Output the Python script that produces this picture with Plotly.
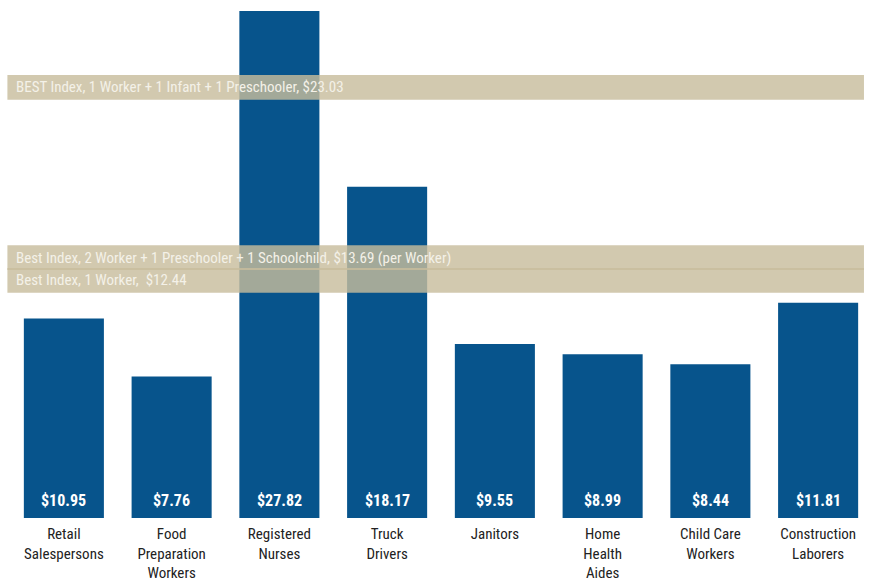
import plotly.graph_objects as go

categories = ["Retail<br>Salespersons", "Food<br>Preparation<br>Workers", "Registered<br>Nurses",
              "Truck<br>Drivers", "Janitors", "Home<br>Health<br>Aides", "Child Care<br>Workers",
              "Construction<br>Laborers"]
wages = [10.95, 7.76, 27.82, 18.17, 9.55, 8.99, 8.44, 11.81]

band_labels = ["BEST Index, 1 Worker + 1 Infant + 1 Preschooler, $23.03",
               "Best Index, 2 Worker + 1 Preschooler + 1 Schoolchild, $13.69 (per Worker)",
               "Best Index, 1 Worker,  $12.44"]
band_values = [23.03, 13.69, 12.44]

BAR = "#07548C"
FONT = "Liberation Sans Narrow, Arial Narrow, Roboto Condensed, sans-serif"
BAND_H = 1.35

fig = go.Figure()
fig.add_trace(go.Bar(x=categories, y=wages, marker=dict(color=BAR, line=dict(width=0)),
                     hoverinfo="skip"))

for lab, v in zip(categories, wages):
    fig.add_annotation(x=lab, y=0, yref="y", xref="x", text=f"<b>${v:.2f}</b>",
                       showarrow=False, yanchor="bottom", yshift=6,
                       font=dict(family=FONT, size=16, color="white"))

for txt, v in zip(band_labels, band_values):
    fig.add_shape(type="rect", xref="paper", yref="y", x0=-0.003, x1=0.9907,
                  y0=v - 0.08, y1=v + BAND_H - 0.08, fillcolor="rgb(200,189,157)", opacity=0.81,
                  line=dict(width=0), layer="above")
    fig.add_annotation(xref="paper", yref="y", x=0.005, y=v + BAND_H / 2 - 0.08, text=txt,
                       showarrow=False, xanchor="left", yanchor="middle",
                       font=dict(family=FONT, size=15, color="#F4F1E8"))

fig.update_layout(
    width=872, height=584,
    margin=dict(l=10, r=0, t=0, b=66),
    paper_bgcolor="white", plot_bgcolor="white",
    bargap=0.257, showlegend=False,
    xaxis=dict(showgrid=False, showline=False, zeroline=False, ticks="",
               ticklabelstandoff=5, automargin=False,
               tickfont=dict(family=FONT, size=15, color="#222222"), fixedrange=True),
    yaxis=dict(range=[0, 28.42], visible=False, fixedrange=True, automargin=False),
)

fig.write_html("out.html")
